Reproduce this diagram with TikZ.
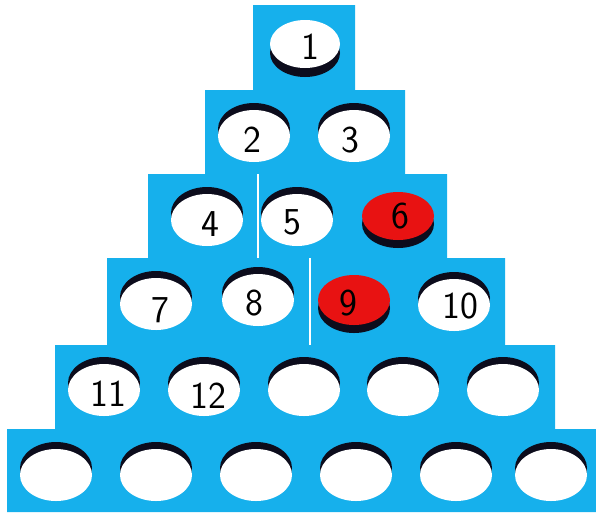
\documentclass[tikz,border=0pt]{standalone}
\usepackage{tikz}

\definecolor{boardblue}{RGB}{22,176,236}
\definecolor{pegred}{RGB}{232,18,18}
\definecolor{holeshadow}{RGB}{12,12,28}

\begin{document}
\begin{tikzpicture}[x=1pt,y=-1pt,
    hole/.style={fill=white},
    shade/.style={fill=holeshadow},
    peg/.style={fill=pegred},
    num/.style={font=\sffamily\fontsize{38}{38}\selectfont,inner sep=0pt}]
    \useasboundingbox (0,0) rectangle (596,512);

    % the stepped board
    \fill[boardblue] (253,5) -- (355,5) -- (355,90) -- (405,90) -- (405,174)
        -- (447,174) -- (447,258) -- (505,258) -- (505,345) -- (555,345)
        -- (555,429) -- (596,429) -- (596,512) -- (7,512) -- (7,429)
        -- (55,429) -- (55,345) -- (107,345) -- (107,258) -- (148,258)
        -- (148,174) -- (205,174) -- (205,90) -- (253,90) -- cycle;
    \draw[white,line width=1.2pt] (258,174) -- (258,258);
    \draw[white,line width=1.2pt] (310,258) -- (310,345);

    % empty holes
    \foreach \x/\y in {254/136,354/136,207/220,297/220,156/304,258/300,
        454/305,104/390,204/390,304/390,403/390,503/390,
        56/475,156/475,256/475,356/475,456/475,551/475} {
        \fill[shade] (\x,\y-7) ellipse (36 and 26);
        \fill[hole] (\x,\y) ellipse (36 and 26);
    }

    % pegs
    \fill[shade] (305,53) ellipse (35 and 24);
    \fill[hole] (305,44) ellipse (35 and 24);
    \fill[shade] (398,224) ellipse (36 and 24);
    \fill[peg] (398,216) ellipse (36 and 24);
    \fill[shade] (354,308) ellipse (36 and 25);
    \fill[peg] (354,300) ellipse (36 and 25);

    % numbers
    \node[num] (n1) at (310,47) {1};
    \node[num] (n2) at (252,140) {2};
    \node[num] (n3) at (350,140) {3};
    \node[num] (n4) at (210,224) {4};
    \node[num] (n5) at (292,222) {5};
    \node[num] (n6) at (400,216) {6};
    \node[num] (n7) at (160,310) {7};
    \node[num] (n8) at (254,303) {8};
    \node[num] (n9) at (348,303) {9};
    \node[num] (n10) at (460,306) {10};
    \node[num] (n11) at (108,394) {11};
    \node[num] (n12) at (208,396) {12};
\end{tikzpicture}
\end{document}
